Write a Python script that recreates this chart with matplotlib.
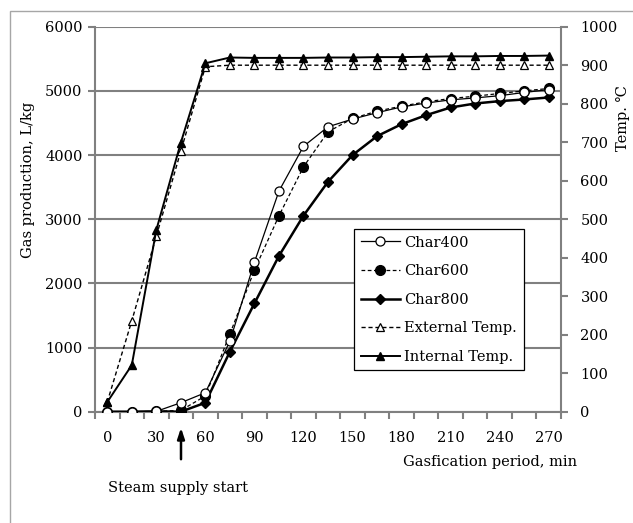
import matplotlib
matplotlib.use("Agg")
import matplotlib.pyplot as plt
from matplotlib.patches import Rectangle

plt.rcParams['font.family'] = ['DejaVu Serif', 'DejaVu Sans']
plt.rcParams['font.size'] = 10.5

# ---- data ----
times = [0, 15, 30, 45, 60, 75, 90, 105, 120, 135, 150, 165, 180, 195, 210, 225, 240, 255, 270]
char400 = [0, 0, 5, 140, 296, 1100, 2330, 3438, 4135, 4440, 4560, 4660, 4750, 4810, 4860, 4890, 4925, 4975, 5020]
char600 = [0, 0, 5, 20, 245, 1210, 2207, 3053, 3816, 4361, 4570, 4684, 4762, 4829, 4881, 4917, 4959, 5000, 5037]
char800 = [0, 0, 5, 0, 140, 935, 1688, 2428, 3055, 3583, 3999, 4294, 4481, 4621, 4741, 4803, 4840, 4866, 4897]
ext_temp = [25, 236, 456, 677, 896, 900, 900, 900, 900, 900, 900, 900, 900, 900, 900, 900, 900, 900, 900]
int_temp = [25, 121, 472, 699, 905, 920, 919, 919, 919, 920, 920, 921, 921, 922, 923, 923, 924, 924, 925]

x_labels = [0, 30, 60, 90, 120, 150, 180, 210, 240, 270]
y_left_ticks = [0, 1000, 2000, 3000, 4000, 5000, 6000]
y_right_ticks = [0, 100, 200, 300, 400, 500, 600, 700, 800, 900, 1000]

W, H = 633, 523
fig = plt.figure(figsize=(W / 100, H / 100), dpi=100)

# outer frame
fig.patches.append(Rectangle((10 / W, -0.1), 1.2, 1 - 11 / H + 0.1, transform=fig.transFigure,
                             fill=False, edgecolor='#a6a6a6', linewidth=1.0))

left, right = 95 / W, 561 / W
bottom, top = 1 - 411.7 / H, 1 - 26.7 / H
ax = fig.add_axes([left, bottom, right - left, top - bottom])
ax2 = ax.twinx()

grey = '#808080'
ax.set_xlim(-7.5, 277.5)
ax.set_ylim(0, 6000)
ax2.set_ylim(0, 1000)

ax.set_yticks(y_left_ticks)
ax2.set_yticks(y_right_ticks)
ax.yaxis.grid(True, color=grey, linewidth=1.5)
ax.set_axisbelow(True)

ax.set_xticks(x_labels)
ax.set_xticks([t - 7.5 for t in times] + [277.5], minor=True)
ax.tick_params(axis='x', which='major', length=0, pad=14)
ax.tick_params(axis='x', which='minor', length=5, color=grey, width=1.5, direction='out')
ax.tick_params(axis='y', length=5, color=grey, width=1.5, pad=4)
ax2.tick_params(axis='y', length=5, color=grey, width=1.5, pad=9)

for a in (ax, ax2):
    for s in a.spines.values():
        s.set_visible(False)
ax.spines['left'].set_visible(True)
ax.spines['left'].set_color(grey)
ax.spines['left'].set_linewidth(1.5)
ax.spines['bottom'].set_visible(True)
ax.spines['bottom'].set_color(grey)
ax.spines['bottom'].set_linewidth(1.5)
ax2.spines['right'].set_visible(True)
ax2.spines['right'].set_color(grey)
ax2.spines['right'].set_linewidth(1.5)

l1, = ax.plot(times, char400, '-', color='black', lw=0.9, marker='o', ms=6.5,
              mfc='white', mec='black', mew=0.9, label='Char400', zorder=4)
l2, = ax.plot(times, char600, '--', color='black', lw=0.9, dashes=(3, 2), marker='o', ms=7,
              mfc='black', mec='black', label='Char600', zorder=3)
l3, = ax.plot(times, char800, '-', color='black', lw=1.8, marker='D', ms=5,
              mfc='black', mec='black', label='Char800', zorder=3)
l4, = ax2.plot(times, ext_temp, '--', color='black', lw=1.0, dashes=(3, 2), marker='^', ms=6,
               mfc='white', mec='black', mew=0.9, label='External Temp.')
l5, = ax2.plot(times, int_temp, '-', color='black', lw=1.4, marker='^', ms=6,
               mfc='black', mec='black', label='Internal Temp.')

leg = ax2.legend(handles=[l1, l2, l3, l4, l5], loc='upper left',
                 bbox_to_anchor=(354 / W, 1 - 229 / H), bbox_transform=fig.transFigure,
                 frameon=True, fancybox=False, edgecolor='black', framealpha=1,
                 handlelength=2.7, handletextpad=0.3, labelspacing=1.0,
                 borderpad=0.45, borderaxespad=0, numpoints=1, fontsize=10.5)
leg.get_frame().set_linewidth(0.9)

fig.text(27.7 / W, 1 - 179.5 / H, 'Gas production, L/kg', rotation=90,
         ha='center', va='center', fontsize=10.5)
fig.text(623 / W, 1 - 118 / H, 'Temp. ℃', rotation=90, ha='center', va='center', fontsize=10.5)
fig.text(577 / W, 1 - 462 / H, 'Gasfication period, min', ha='right', va='center', fontsize=10.5)
fig.text(108 / W, 1 - 488 / H, 'Steam supply start', ha='left', va='center', fontsize=10.5)

ax.annotate('', xy=(181 / W, 1 - 425 / H), xytext=(181 / W, 1 - 462 / H),
            xycoords='figure fraction', textcoords='figure fraction',
            arrowprops=dict(arrowstyle='-|>,head_length=0.6,head_width=0.2', color='black', lw=1.8))

fig.savefig('out.png', dpi=100)
